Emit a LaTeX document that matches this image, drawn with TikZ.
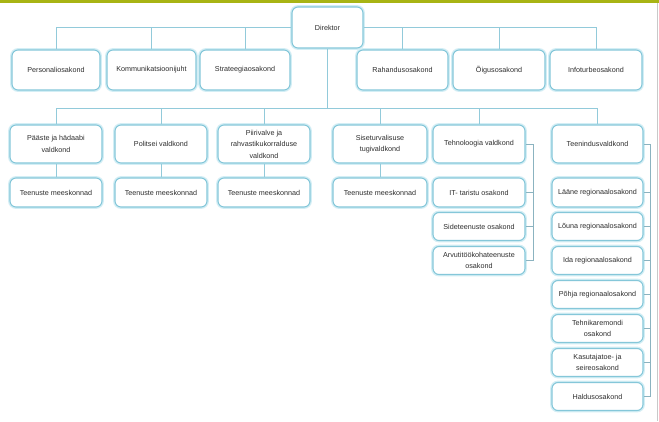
\documentclass[tikz,border=0pt]{standalone}
\usepackage{fontspec}
\setmainfont{Liberation Sans}
\definecolor{barg}{HTML}{A8B414}
\definecolor{boxb}{HTML}{85C7D9}
\definecolor{glow}{HTML}{D3EEF5}
\definecolor{linb}{HTML}{92CADA}
\definecolor{brk}{HTML}{8BB3C0}
\definecolor{txt}{HTML}{2E2E2E}
\definecolor{edge}{HTML}{C9C9C9}
\begin{document}
\begin{tikzpicture}[x=1pt,y=-1pt,
  orgbox/.style={draw=boxb, line width=1.1pt, fill=white, rounded corners=6pt,
    preaction={draw=glow, line width=3.8pt},
    inner sep=0pt, align=center, text=txt, font=\fontsize{7.2}{11.5}\selectfont,
    minimum height=#1},
  orgbox/.default=40,
  conn/.style={draw=linb, line width=0.9pt},
  brack/.style={draw=brk, line width=0.7pt}]
\useasboundingbox (0,0) rectangle (659,421);
\fill[white] (0,0) rectangle (659,421);
\fill[barg] (0,0) rectangle (659,3);
\draw[edge, line width=1pt] (657,3) -- (657,421);

% top level
\node[orgbox=41, minimum width=71] (dir) at (327.5,27.5) {Direktor};
\node[orgbox, minimum width=88] (pers) at (56,70) {Personaliosakond};
\node[orgbox, minimum width=89] (komm) at (151.5,70) {Kommunikatsioonijuht};
\node[orgbox, minimum width=90] (strat) at (245,70) {Strateegiaosakond};
\node[orgbox, minimum width=91] (rah) at (402.5,70) {Rahandusosakond};
\node[orgbox, minimum width=92] (oig) at (499,70) {Õigusosakond};
\node[orgbox, minimum width=92] (info) at (596,70) {Infoturbeosakond};

% second level
\node[orgbox=38, minimum width=92] (paaste) at (56,144) {Pääste ja hädaabi\\valdkond};
\node[orgbox=38, minimum width=92] (pol) at (161,144) {Politsei valdkond};
\node[orgbox=38, minimum width=92] (piir) at (264,144) {Piirivalve ja\\rahvastikukorralduse\\valdkond};
\node[orgbox=38, minimum width=94] (sise) at (380,144) {Siseturvalisuse\\tugivaldkond};
\node[orgbox=38, minimum width=92] (tehn) at (479,144) {Tehnoloogia valdkond};
\node[orgbox=38, minimum width=91] (teen) at (597.5,144) {Teenindusvaldkond};

% third level
\node[orgbox=29, minimum width=92] (t1) at (56,192.5) {Teenuste meeskonnad};
\node[orgbox=29, minimum width=92] (t2) at (161,192.5) {Teenuste meeskonnad};
\node[orgbox=29, minimum width=92] (t3) at (264,192.5) {Teenuste meeskonnad};
\node[orgbox=29, minimum width=94] (t4) at (380,192.5) {Teenuste meeskonnad};
\node[orgbox=29, minimum width=92] (it) at (479,192.5) {IT- taristu osakond};
\node[orgbox=28, minimum width=92] (side) at (479,226.5) {Sideteenuste osakond};
\node[orgbox=28, minimum width=92] (arv) at (479,260.5) {Arvutitöökohateenuste\\osakond};
\node[orgbox=29, minimum width=91] (laane) at (597.5,192.5) {Lääne regionaalosakond};
\node[orgbox=28, minimum width=91] (louna) at (597.5,226.5) {Lõuna regionaalosakond};
\node[orgbox=28, minimum width=91] (ida) at (597.5,260.5) {Ida regionaalosakond};
\node[orgbox=28, minimum width=91] (pohja) at (597.5,294.5) {Põhja regionaalosakond};
\node[orgbox=28, minimum width=91] (tehnik) at (597.5,328.5) {Tehnikaremondi\\osakond};
\node[orgbox=28, minimum width=91] (kasut) at (597.5,362.5) {Kasutajatoe- ja\\seireosakond};
\node[orgbox=28, minimum width=91] (hald) at (597.5,396.5) {Haldusosakond};

% connectors from director to staff units
\draw[conn] (dir.west) -| (pers.north);
\draw[conn] (komm.north) -- (komm.north |- dir.west);
\draw[conn] (strat.north) -- (strat.north |- dir.west);
\draw[conn] (dir.east) -| (info.north);
\draw[conn] (rah.north) -- (rah.north |- dir.east);
\draw[conn] (oig.north) -- (oig.north |- dir.east);

% bus to the fields
\coordinate (bus) at (dir.south |- 0,108);
\draw[conn] (dir.south) -- (bus);
\draw[conn] (paaste.north) |- (teen.north |- bus) -- (teen.north);
\foreach \n in {pol,piir,sise,tehn} \draw[conn] (\n.north) -- (\n.north |- bus);

\foreach \a/\b in {paaste/t1,pol/t2,piir/t3,sise/t4} \draw[conn] (\a.south) -- (\b.north);

% brackets
\coordinate (tb) at (533,144);
\draw[brack] (tehn.east) -- (tb) |- (arv.east);
\foreach \n in {it,side} \draw[brack] (\n.east) -- (\n.east -| tb);

\coordinate (sb) at (650,144);
\draw[brack] (teen.east) -- (sb) |- (hald.east);
\foreach \n in {laane,louna,ida,pohja,tehnik,kasut} \draw[brack] (\n.east) -- (\n.east -| sb);
\end{tikzpicture}
\end{document}
